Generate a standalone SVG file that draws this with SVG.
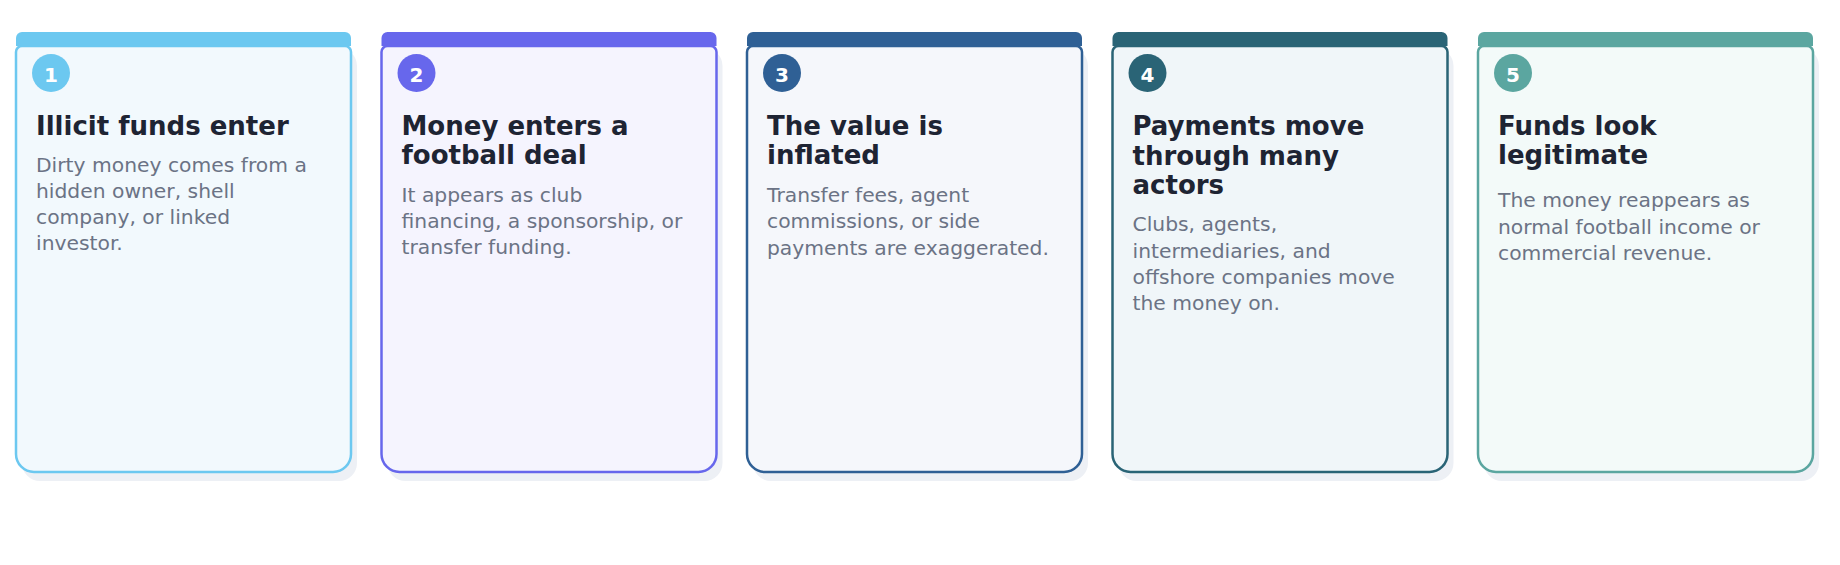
<svg xmlns="http://www.w3.org/2000/svg" width="1840" height="565" viewBox="0 0 1840 565">
  <defs>
    <style>
      .shadow { fill: #edf0f5; }
      .card { stroke-width: 2.5; }
      .num { font-family: "DejaVu Sans", "Liberation Sans", sans-serif; font-weight: bold; font-size: 20px; fill: #ffffff; text-anchor: middle; }
      .title { font-family: "DejaVu Sans", "Liberation Sans", sans-serif; font-weight: bold; font-size: 26px; fill: #1e2433; }
      .body { font-family: "DejaVu Sans", "Liberation Sans", sans-serif; font-size: 20.3px; fill: #6b7385; }
    </style>
    <path id="cardShape" d="M0,52 a6,6 0 0 1 6,-6 h323 a6,6 0 0 1 6,6 v402 a18,18 0 0 1 -18,18 h-299 a18,18 0 0 1 -18,-18 z"/>
    <path id="headShape" d="M0,38 a6,6 0 0 1 6,-6 h323 a6,6 0 0 1 6,6 v8 h-335 z"/>
  </defs>
  <rect width="1840" height="565" fill="#ffffff"/>
  <g id="connectors"></g>

  <g id="step1" transform="translate(16,0)">
    <rect class="shadow" x="6" y="48" width="335" height="433" rx="18"/>
    <use href="#cardShape" class="card" fill="#f2f9fd" stroke="#6cc8f0"/>
    <use href="#headShape" fill="#6cc8f0"/>
    <circle cx="35" cy="73" r="19" fill="#6cc8f0"/>
    <text class="num" x="35" y="81.5">1</text>
    <text class="title" x="20" y="135">Illicit funds enter</text>
    <text class="body" x="20" y="172">Dirty money comes from a</text>
    <text class="body" x="20" y="198">hidden owner, shell</text>
    <text class="body" x="20" y="224">company, or linked</text>
    <text class="body" x="20" y="250">investor.</text>
  </g>

  <g id="step2" transform="translate(381.5,0)">
    <rect class="shadow" x="6" y="48" width="335" height="433" rx="18"/>
    <use href="#cardShape" class="card" fill="#f5f4fe" stroke="#6767ec"/>
    <use href="#headShape" fill="#6767ec"/>
    <circle cx="35" cy="73" r="19" fill="#6767ec"/>
    <text class="num" x="35" y="81.5">2</text>
    <text class="title" x="20" y="135">Money enters a</text>
    <text class="title" x="20" y="164">football deal</text>
    <text class="body" x="20" y="201.5">It appears as club</text>
    <text class="body" x="20" y="228">financing, a sponsorship, or</text>
    <text class="body" x="20" y="254">transfer funding.</text>
  </g>

  <g id="step3" transform="translate(747,0)">
    <rect class="shadow" x="6" y="48" width="335" height="433" rx="18"/>
    <use href="#cardShape" class="card" fill="#f5f7fb" stroke="#2f6095"/>
    <use href="#headShape" fill="#2f6095"/>
    <circle cx="35" cy="73" r="19" fill="#2f6095"/>
    <text class="num" x="35" y="81.5">3</text>
    <text class="title" x="20" y="135">The value is</text>
    <text class="title" x="20" y="164">inflated</text>
    <text class="body" x="20" y="201.5">Transfer fees, agent</text>
    <text class="body" x="20" y="228">commissions, or side</text>
    <text class="body" x="20" y="254.5">payments are exaggerated.</text>
  </g>

  <g id="step4" transform="translate(1112.5,0)">
    <rect class="shadow" x="6" y="48" width="335" height="433" rx="18"/>
    <use href="#cardShape" class="card" fill="#f0f6f9" stroke="#2a6476"/>
    <use href="#headShape" fill="#2a6476"/>
    <circle cx="35" cy="73" r="19" fill="#2a6476"/>
    <text class="num" x="35" y="81.5">4</text>
    <text class="title" x="20" y="135">Payments move</text>
    <text class="title" x="20" y="164.5">through many</text>
    <text class="title" x="20" y="194">actors</text>
    <text class="body" x="20" y="231">Clubs, agents,</text>
    <text class="body" x="20" y="257.5">intermediaries, and</text>
    <text class="body" x="20" y="284">offshore companies move</text>
    <text class="body" x="20" y="310">the money on.</text>
  </g>

  <g id="step5" transform="translate(1478,0)">
    <rect class="shadow" x="6" y="48" width="335" height="433" rx="18"/>
    <use href="#cardShape" class="card" fill="#f3faf9" stroke="#5ba6a0"/>
    <use href="#headShape" fill="#5ba6a0"/>
    <circle cx="35" cy="73" r="19" fill="#5ba6a0"/>
    <text class="num" x="35" y="81.5">5</text>
    <text class="title" x="20" y="135">Funds look</text>
    <text class="title" x="20" y="164">legitimate</text>
    <text class="body" x="20" y="207">The money reappears as</text>
    <text class="body" x="20" y="233.5">normal football income or</text>
    <text class="body" x="20" y="260">commercial revenue.</text>
  </g>
</svg>
